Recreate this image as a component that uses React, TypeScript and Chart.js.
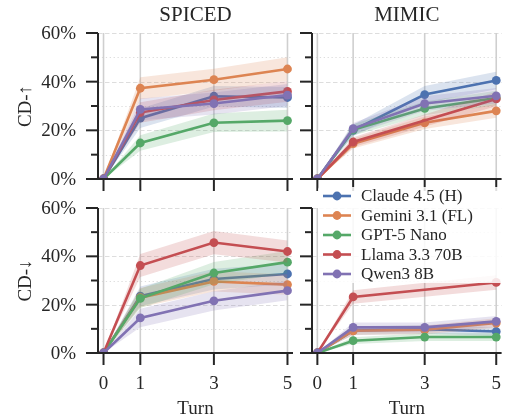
import React, { useEffect, useRef } from 'react';
import { Chart, registerables } from 'chart.js';

Chart.register(...registerables);

// ---------------- data ----------------
const TURNS = [0, 1, 3, 5];
const X_TICKS = [0, 1, 3, 5];
const X_TICK_LABELS = ['0', '1', '3', '5'];
const Y_TICKS = [0, 20, 40, 60];
const Y_TICK_LABELS = ['0%', '20%', '40%', '60%'];
const Y_MINOR = [10, 30, 50];
const MODELS = ['Claude 4.5 (H)', 'Gemini 3.1 (FL)', 'GPT-5 Nano', 'Llama 3.3 70B', 'Qwen3 8B'];
const COLORS = ['#4C72B0', '#DD8452', '#55A868', '#C44E52', '#8172B3'];
const COLUMN_TITLES = ['SPICED', 'MIMIC'];
const ROW_LABELS = ['CD-↑', 'CD-↓'];
const X_LABEL = 'Turn';

// rows: Claude, Gemini, GPT-5 Nano, Llama, Qwen ; columns: turns 0,1,3,5
const SPICED_UP = [
  [0, 25.0, 34.0, 33.5],
  [0, 37.3, 40.8, 45.2],
  [0, 14.8, 23.1, 24.0],
  [0, 27.3, 32.5, 36.0],
  [0, 28.6, 31.0, 34.5],
];
const SPICED_UP_ERR = [
  [0, 4.0, 4.2, 4.3],
  [0, 4.5, 4.5, 4.8],
  [0, 3.2, 3.8, 4.5],
  [0, 4.2, 4.2, 4.3],
  [0, 4.5, 4.5, 4.5],
];
const MIMIC_UP = [
  [0, 20.0, 34.7, 40.5],
  [0, 14.5, 23.1, 28.0],
  [0, 20.2, 29.0, 33.3],
  [0, 15.2, null, 32.9],
  [0, 20.7, 31.0, 34.2],
];
const MIMIC_UP_ERR = [
  [0, 2.3, 3.5, 3.6],
  [0, 2.0, 2.6, 2.8],
  [0, 2.3, 2.8, 3.0],
  [0, 2.0, null, 3.0],
  [0, 2.3, 3.0, 3.2],
];
const SPICED_DOWN = [
  [0, 23.5, 30.6, 32.7],
  [0, 22.9, 29.6, 28.3],
  [0, 22.6, 33.1, 37.6],
  [0, 36.2, 45.7, 42.0],
  [0, 14.5, 21.6, 25.8],
];
const SPICED_DOWN_ERR = [
  [0, 4.0, 4.3, 4.3],
  [0, 4.0, 4.2, 4.2],
  [0, 4.0, 4.6, 4.6],
  [0, 4.8, 4.8, 4.6],
  [0, 3.8, 4.0, 4.0],
];
const MIMIC_DOWN = [
  [0, 9.3, 9.8, 8.9],
  [0, 9.2, 9.6, 12.4],
  [0, 5.1, 6.6, 6.6],
  [0, 23.2, null, 29.2],
  [0, 10.6, 10.6, 13.1],
];
const MIMIC_DOWN_ERR = [
  [0, 1.8, 1.8, 1.8],
  [0, 1.8, 1.8, 2.0],
  [0, 1.4, 1.6, 1.6],
  [0, 2.8, null, 3.0],
  [0, 2.0, 2.0, 2.2],
];

// ---------------- styling / layout ----------------
const FONT = '"Liberation Serif", "DejaVu Serif", serif';
const INK = '#262626';

function rgba(hex: string, a: number) {
  const n = parseInt(hex.slice(1), 16);
  return `rgba(${(n >> 16) & 255},${(n >> 8) & 255},${n & 255},${a})`;
}

function buildDatasets(vals: (number | null)[][], errs: (number | null)[][]) {
  const ds: any[] = [];
  vals.forEach((row, i) => {
    const pts: any[] = [];
    const lo: any[] = [];
    const hi: any[] = [];
    row.forEach((v, j) => {
      if (v == null) return;
      const e = (errs[i][j] as number) ?? 0;
      pts.push({ x: TURNS[j], y: v });
      lo.push({ x: TURNS[j], y: v - e });
      hi.push({ x: TURNS[j], y: v + e });
    });
    const base = 100 - 3 * i;
    const c = COLORS[i];
    ds.push({ data: lo, borderWidth: 0, borderColor: 'rgba(0,0,0,0)', pointRadius: 0, fill: false, order: base, clip: 0 });
    ds.push({ data: hi, borderWidth: 0, borderColor: 'rgba(0,0,0,0)', pointRadius: 0, fill: '-1', backgroundColor: rgba(c, 0.2), order: base - 1, clip: 0 });
    ds.push({
      label: MODELS[i], data: pts, borderColor: c, backgroundColor: c, borderWidth: 2.6,
      pointRadius: 4.4, pointBackgroundColor: c, pointBorderWidth: 0, order: base - 2, clip: 0, tension: 0,
    });
  });
  return ds;
}

const decorPlugin = {
  id: 'decor',
  beforeDatasetsDraw(chart: any, _a: any, o: any) {
    const { ctx, chartArea: a } = chart;
    const xs = chart.scales.x, ys = chart.scales.y;
    ctx.save();
    ctx.strokeStyle = '#dddddd';
    ctx.lineWidth = 1;
    ctx.setLineDash([1.3, 2.6]);
    for (const v of Y_MINOR) {
      const y = Math.round(ys.getPixelForValue(v)) + 0.5;
      ctx.beginPath(); ctx.moveTo(a.left, y); ctx.lineTo(a.right, y); ctx.stroke();
    }
    ctx.setLineDash([4.5, 2.5]);
    for (const v of Y_TICKS) {
      if (v === 0) continue;
      const y = Math.round(ys.getPixelForValue(v)) + 0.5;
      ctx.beginPath(); ctx.moveTo(a.left, y); ctx.lineTo(a.right, y); ctx.stroke();
    }
    ctx.setLineDash([]);
    ctx.strokeStyle = '#cfcfcf';
    ctx.lineWidth = 1.6;
    for (const v of X_TICKS) {
      const x = xs.getPixelForValue(v);
      ctx.beginPath(); ctx.moveTo(x, a.top); ctx.lineTo(x, a.bottom); ctx.stroke();
    }
    ctx.restore();
  },
  afterDatasetsDraw(chart: any, _a: any, o: any) {
    const { ctx, chartArea: a } = chart;
    const xs = chart.scales.x, ys = chart.scales.y;
    ctx.save();
    ctx.strokeStyle = INK;
    ctx.lineWidth = 2;
    // spines
    ctx.beginPath(); ctx.moveTo(a.left, a.top); ctx.lineTo(a.left, a.bottom + 1); ctx.stroke();
    ctx.beginPath(); ctx.moveTo(a.left - 1, a.bottom); ctx.lineTo(a.right, a.bottom); ctx.stroke();
    // y ticks
    for (const v of Y_TICKS) {
      const y = ys.getPixelForValue(v);
      ctx.beginPath(); ctx.moveTo(a.left - 12, y); ctx.lineTo(a.left, y); ctx.stroke();
    }
    for (const v of Y_MINOR) {
      const y = ys.getPixelForValue(v);
      ctx.beginPath(); ctx.moveTo(a.left - 7, y); ctx.lineTo(a.left, y); ctx.stroke();
    }
    // x ticks
    for (const v of X_TICKS) {
      const x = xs.getPixelForValue(v);
      ctx.beginPath(); ctx.moveTo(x, a.bottom); ctx.lineTo(x, a.bottom + 12); ctx.stroke();
    }
    ctx.fillStyle = INK;
    if (o.yLabels) {
      ctx.font = `19px ${FONT}`;
      ctx.textAlign = 'right';
      ctx.textBaseline = 'middle';
      Y_TICKS.forEach((v, i) => ctx.fillText(Y_TICK_LABELS[i], a.left - 22, ys.getPixelForValue(v) + 1));
    }
    if (o.xLabels) {
      ctx.font = `19px ${FONT}`;
      ctx.textAlign = 'center';
      ctx.textBaseline = 'alphabetic';
      X_TICKS.forEach((v, i) => ctx.fillText(X_TICK_LABELS[i], xs.getPixelForValue(v), a.bottom + 36));
      ctx.fillText(X_LABEL, (a.left + a.right) / 2, a.bottom + 61);
    }
    if (o.title) {
      ctx.font = `21px ${FONT}`;
      ctx.textAlign = 'center';
      ctx.textBaseline = 'alphabetic';
      ctx.fillText(o.title, (a.left + a.right) / 2, a.top - 12);
    }
    if (o.ylabel) {
      ctx.font = `19px ${FONT}`;
      ctx.save();
      ctx.translate(a.left - 67, (a.top + a.bottom) / 2);
      ctx.rotate(-Math.PI / 2);
      ctx.textAlign = 'center';
      ctx.textBaseline = 'alphabetic';
      ctx.fillText(o.ylabel, 0, 0);
      ctx.restore();
    }
    ctx.restore();
  },
  afterDraw(chart: any, _a: any, o: any) {
    if (!o.legend) return;
    const { ctx, chartArea: a } = chart;
    ctx.save();
    const bx = a.left + 6, by = a.top - 21, bw = 188, bh = 96;
    ctx.fillStyle = 'rgba(255,255,255,0.85)';
    ctx.beginPath();
    (ctx as any).roundRect ? ctx.roundRect(bx, by, bw, bh, 3) : ctx.rect(bx, by, bw, bh);
    ctx.fill();
    ctx.font = `17px ${FONT}`;
    ctx.textAlign = 'left';
    ctx.textBaseline = 'middle';
    MODELS.forEach((m, i) => {
      const y = by + 9 + i * 19.5;
      const c = COLORS[i];
      ctx.strokeStyle = c;
      ctx.lineWidth = 2.6;
      ctx.beginPath(); ctx.moveTo(bx + 5, y); ctx.lineTo(bx + 33, y); ctx.stroke();
      ctx.fillStyle = c;
      ctx.beginPath(); ctx.arc(bx + 19, y, 4.4, 0, Math.PI * 2); ctx.fill();
      ctx.fillStyle = INK;
      ctx.fillText(m, bx + 43, y + 1);
    });
    ctx.restore();
  },
};

type PanelCfg = {
  vals: (number | null)[][];
  errs: (number | null)[][];
  box: [number, number, number, number];
  pad: { left: number; top: number; right: number; bottom: number };
  title?: string;
  ylabel?: string;
  yLabels: boolean;
  xLabels: boolean;
  legend: boolean;
};

const PANELS: PanelCfg[] = [
  { vals: SPICED_UP, errs: SPICED_UP_ERR, box: [0, 0, 300, 200], pad: { left: 98, top: 33, right: 7, bottom: 21 },
    title: COLUMN_TITLES[0], ylabel: ROW_LABELS[0], yLabels: true, xLabels: false, legend: false },
  { vals: MIMIC_UP, errs: MIMIC_UP_ERR, box: [290, 0, 216, 200], pad: { left: 22, top: 33, right: 0, bottom: 21 },
    title: COLUMN_TITLES[1], yLabels: false, xLabels: false, legend: false },
  { vals: SPICED_DOWN, errs: SPICED_DOWN_ERR, box: [0, 190, 300, 229], pad: { left: 98, top: 18, right: 7, bottom: 66 },
    ylabel: ROW_LABELS[1], yLabels: true, xLabels: true, legend: false },
  { vals: MIMIC_DOWN, errs: MIMIC_DOWN_ERR, box: [290, 185, 216, 234], pad: { left: 22, top: 23, right: 0, bottom: 66 },
    yLabels: false, xLabels: true, legend: true },
];

function Panel({ cfg }: { cfg: PanelCfg }) {
  const ref = useRef<HTMLCanvasElement>(null);
  useEffect(() => {
    const chart = new Chart(ref.current as HTMLCanvasElement, {
      type: 'line',
      data: { datasets: buildDatasets(cfg.vals, cfg.errs) },
      options: {
        responsive: false,
        animation: false,
        events: [],
        layout: { padding: cfg.pad },
        scales: {
          x: { type: 'linear', min: -0.15, max: 5.15, display: false },
          y: { type: 'linear', min: 0, max: 60, display: false },
        },
        plugins: {
          legend: { display: false },
          tooltip: { enabled: false },
          // @ts-ignore
          decor: { title: cfg.title, ylabel: cfg.ylabel, yLabels: cfg.yLabels, xLabels: cfg.xLabels, legend: cfg.legend },
        },
      } as any,
      plugins: [decorPlugin as any],
    });
    return () => chart.destroy();
  }, []);
  const [l, t, w, h] = cfg.box;
  return (
    <canvas ref={ref} width={w} height={h}
      style={{ position: 'absolute', left: l, top: t, width: w, height: h }} />
  );
}

export default function App() {
  return (
    <div style={{ position: 'fixed', left: 0, top: 0, width: 506, height: 419, background: '#fff', overflow: 'hidden' }}>
      {PANELS.map((p, i) => <Panel key={i} cfg={p} />)}
    </div>
  );
}
